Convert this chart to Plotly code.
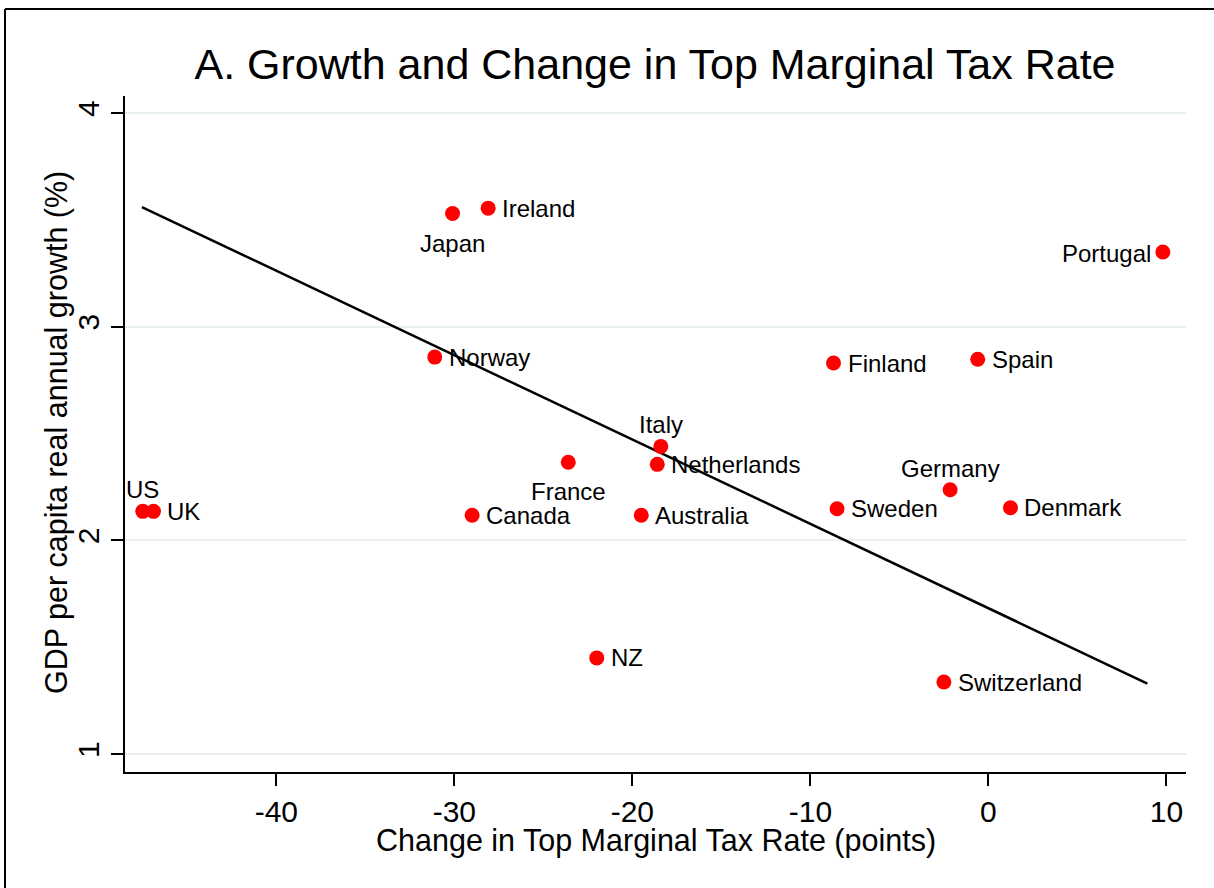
import plotly.graph_objects as go

# ---------------- data ----------------
countries = ["US", "UK", "Japan", "Ireland", "Portugal", "Norway", "Finland", "Spain",
             "Italy", "Netherlands", "France", "Germany", "Canada", "Australia",
             "Sweden", "Denmark", "NZ", "Switzerland"]
tax_change = [-47.5, -46.9, -30.1, -28.1, 9.8, -31.1, -8.7, -0.6,
              -18.4, -18.6, -23.6, -2.15, -29.0, -19.5,
              -8.5, 1.24, -22.0, -2.5]
growth = [2.136, 2.136, 3.53, 3.555, 3.35, 2.858, 2.83, 2.848,
          2.44, 2.356, 2.366, 2.237, 2.118, 2.118,
          2.148, 2.153, 1.45, 1.337]

# fitted line as drawn in the figure (end points)
fit_x = [-47.55, 8.93]
fit_y = [3.56, 1.33]

x_ticks = [-40, -30, -20, -10, 0, 10]
x_tick_labels = ["-40", "-30", "-20", "-10", "0", "10"]
y_ticks = [1, 2, 3, 4]
y_tick_labels = ["1", "2", "3", "4"]

title = "A. Growth and Change in Top Marginal Tax Rate"
x_title = "Change in Top Marginal Tax Rate (points)"
y_title = "GDP per capita real annual growth (%)"

# ---------------- styling / layout ----------------
label_pos = {"US": "t", "Japan": "b", "Portugal": "l", "Italy": "t",
             "France": "b", "Germany": "t"}  # others: right

W, H = 1214, 888
L, R, T, B = 125, 28, 96, 116
PW, PH = W - L - R, H - T - B
FONT = "Arial, Liberation Sans, Helvetica, sans-serif"


def px_x(p):
    return (p - L) / PW


def px_y(p):
    return (H - B - p) / PH


fig = go.Figure()

fig.add_trace(go.Scatter(
    x=fit_x, y=fit_y, mode="lines",
    line=dict(color="black", width=2.5), hoverinfo="skip", showlegend=False))

fig.add_trace(go.Scatter(
    x=tax_change, y=growth, mode="markers",
    marker=dict(color="#FF0000", size=15, line=dict(width=0)),
    text=countries, showlegend=False))

annotations = []
for name, xv, yv in zip(countries, tax_change, growth):
    pos = label_pos.get(name, "r")
    a = dict(x=xv, y=yv, xref="x", yref="y", text=name, showarrow=False,
             font=dict(family=FONT, size=24, color="black"))
    if pos == "r":
        a.update(xanchor="left", yanchor="middle", xshift=12, yshift=0)
    elif pos == "l":
        a.update(xanchor="right", yanchor="middle", xshift=-10, yshift=-2)
    elif pos == "t":
        a.update(xanchor="center", yanchor="bottom", yshift=6)
    else:
        a.update(xanchor="center", yanchor="top", yshift=-14)
    annotations.append(a)

# axis titles
annotations.append(dict(x=px_x(656), y=px_y(841), xref="paper", yref="paper",
                        text=x_title, showarrow=False, xanchor="center", yanchor="middle",
                        font=dict(family=FONT, size=30.5, color="black")))
annotations.append(dict(x=px_x(56), y=px_y(433), xref="paper", yref="paper",
                        text=y_title, showarrow=False, xanchor="center", yanchor="middle",
                        textangle=-90,
                        font=dict(family=FONT, size=30.5, color="black")))

shapes = [
    dict(type="line", xref="paper", yref="paper", x0=px_x(5), x1=px_x(5),
         y0=px_y(9), y1=px_y(H + 5), line=dict(color="black", width=2)),
    dict(type="line", xref="paper", yref="paper", x0=px_x(5), x1=px_x(W + 5),
         y0=px_y(9), y1=px_y(9), line=dict(color="black", width=2)),
]

fig.update_layout(
    width=W, height=H, autosize=False,
    margin=dict(l=L, r=R, t=T, b=B, pad=0),
    paper_bgcolor="white", plot_bgcolor="white",
    title=dict(text=title, x=655 / W, xanchor="center", y=1 - 64 / H, yanchor="middle",
               xref="container", yref="container",
               font=dict(family=FONT, size=43, color="black")),
    annotations=annotations, shapes=shapes,
    showlegend=False,
)

fig.update_xaxes(
    range=[-48.5, 11.1], tickvals=x_ticks, ticktext=x_tick_labels,
    ticks="outside", ticklen=12, tickwidth=2,
    tickcolor="black", showline=True, linecolor="black", linewidth=2,
    showgrid=False, zeroline=False,
    tickfont=dict(family=FONT, size=30, color="black"))

fig.update_yaxes(
    range=[0.916, 4.08], tickvals=y_ticks, ticktext=y_tick_labels, tickangle=-90,
    ticks="outside", ticklen=12,
    tickwidth=2, tickcolor="black", showline=True, linecolor="black", linewidth=2,
    showgrid=True, gridcolor="#E8EFF2", gridwidth=2, zeroline=False,
    tickfont=dict(family=FONT, size=30, color="black"))

fig.write_html(
    "out.html",
    config={"displayModeBar": False},
    post_script="document.body.style.margin='0';document.body.style.overflow='hidden';",
)
